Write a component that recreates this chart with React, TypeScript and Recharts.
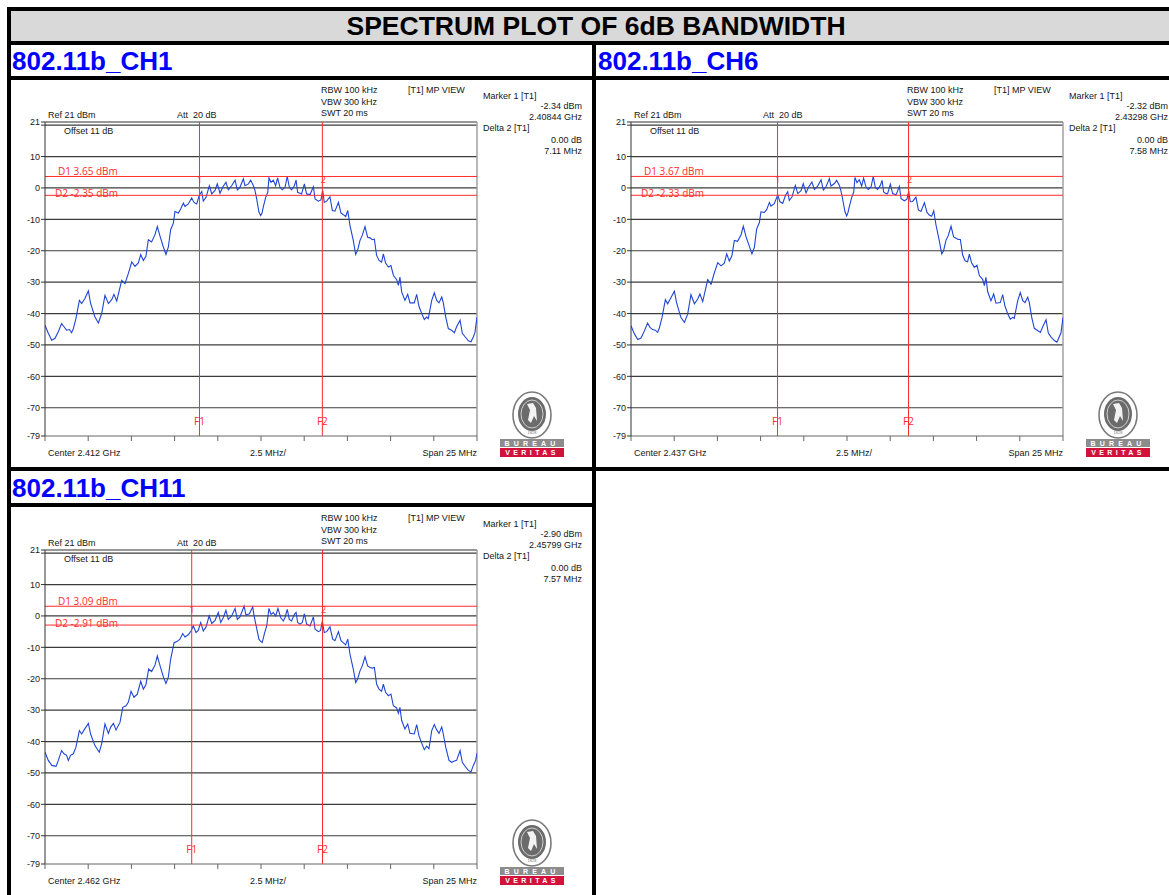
import React from 'react';
import { LineChart, Line, XAxis, YAxis, ReferenceLine, ReferenceDot } from 'recharts';

const TITLE = 'SPECTRUM PLOT OF 6dB BANDWIDTH';
const CHANNEL_NAMES = ['802.11b_CH1', '802.11b_CH6', '802.11b_CH11'];
const CENTER_GHZ = [2.412, 2.437, 2.462];
const MARKER1_LEVEL = ['-2.34', '-2.32', '-2.90'];
const MARKER1_GHZ = [2.40844, 2.43298, 2.45799];
const DELTA2_MHZ = [7.11, 7.58, 7.57];
const D1_LEVEL = [3.65, 3.67, 3.09];
const D2_LEVEL = [-2.35, -2.33, -2.91];

const Y_TICKS = [21, 20, 10, 0, -10, -20, -30, -40, -50, -60, -70, -79];
const GRID_LEVELS = [20, 10, 0, -10, -20, -30, -40, -50, -60, -70];
const X_TICKS = [-12.5, -10, -7.5, -5, -2.5, 0, 2.5, 5, 7.5, 10, 12.5];

// [offset from center in MHz, level in dBm]
const CH1_TRACE: [number, number][] = [
  [-12.5, -43.7], [-12.31, -46.3], [-12.11, -48.5], [-11.92, -47.9], [-11.73, -45.8], [-11.54, -43.2], [-11.4, -44.2],
  [-11.25, -45.3], [-11.09, -45.1], [-10.96, -46.1], [-10.86, -44.8], [-10.71, -41.6], [-10.51, -35.8], [-10.38, -36.8],
  [-10.19, -35.2], [-9.99, -32.8], [-9.86, -36.8], [-9.61, -41.1], [-9.41, -43.0], [-9.22, -40.0], [-9.03, -34.2],
  [-8.83, -36.8], [-8.64, -35.6], [-8.51, -33.9], [-8.35, -36.0], [-8.06, -29.4], [-7.87, -30.5], [-7.68, -27.3],
  [-7.48, -23.6], [-7.29, -25.0], [-7.1, -23.9], [-6.96, -21.2], [-6.81, -23.1], [-6.66, -21.8], [-6.52, -16.5],
  [-6.33, -17.2], [-6.13, -14.8], [-6.0, -12.3], [-5.84, -15.4], [-5.65, -18.8], [-5.5, -21.2], [-5.36, -18.8],
  [-5.23, -13.3], [-5.07, -11.2], [-4.98, -7.5], [-4.78, -8.0], [-4.65, -6.7], [-4.49, -4.8], [-4.4, -5.9],
  [-4.21, -5.1], [-4.01, -3.2], [-3.88, -4.6], [-3.72, -5.1], [-3.57, -2.3], [-3.43, -1.1], [-3.34, -4.2],
  [-3.18, -3.0], [-2.99, 0.7], [-2.85, -1.9], [-2.66, -0.8], [-2.53, 1.3], [-2.37, -1.7], [-2.22, 0.2],
  [-2.03, 1.8], [-1.89, -0.6], [-1.7, 0.7], [-1.5, 2.5], [-1.37, -0.6], [-1.22, 0.2], [-1.02, 2.9],
  [-0.93, 0.7], [-0.73, 1.3], [-0.6, 2.5], [-0.44, 0.7], [-0.35, -0.8], [-0.25, -3.5], [-0.12, -7.7],
  [-0.02, -8.8], [0.06, -8.0], [0.13, -6.1], [0.27, -3.0], [0.39, -1.4], [0.46, 3.2], [0.58, 1.8],
  [0.71, 2.5], [0.85, 0.7], [0.96, 3.2], [1.1, 0.2], [1.23, -0.6], [1.39, 0.2], [1.52, 3.65],
  [1.64, 0.2], [1.77, -0.6], [1.93, 0.7], [2.03, 2.5], [2.12, -1.4], [2.26, -1.7], [2.35, -1.9],
  [2.51, 1.3], [2.64, -1.9], [2.84, -2.1], [3.03, 0.4], [3.13, -3.5], [3.32, -4.2], [3.47, -3.8],
  [3.57, -0.8], [3.66, -4.6], [3.8, -4.2], [3.99, -2.8], [4.13, -7.2], [4.28, -7.4], [4.48, -4.6],
  [4.63, -8.0], [4.76, -8.5], [4.9, -9.1], [5.02, -7.2], [5.15, -12.0], [5.34, -16.7], [5.48, -21.2],
  [5.59, -19.9], [5.73, -16.7], [5.86, -15.1], [6.02, -12.3], [6.17, -15.7], [6.31, -15.9], [6.44, -16.5],
  [6.56, -16.3], [6.69, -21.5], [6.83, -23.1], [6.98, -23.6], [7.08, -21.0], [7.21, -23.9], [7.37, -25.2],
  [7.52, -24.7], [7.66, -27.8], [7.85, -29.2], [7.95, -31.0], [8.04, -28.4], [8.14, -33.1], [8.33, -35.8],
  [8.49, -33.9], [8.62, -36.6], [8.87, -36.6], [9.01, -33.9], [9.14, -37.7], [9.3, -40.0], [9.45, -41.9],
  [9.59, -41.1], [9.68, -41.6], [9.88, -35.8], [10.03, -33.4], [10.17, -35.8], [10.3, -36.6], [10.46, -34.7],
  [10.55, -36.6], [10.69, -41.1], [10.84, -44.8], [11.03, -45.3], [11.19, -46.1], [11.32, -44.2], [11.52, -42.1],
  [11.65, -46.3], [11.81, -47.4], [12.0, -48.7], [12.15, -49.0], [12.29, -47.4], [12.38, -46.1], [12.5, -41.1],
];

const CH6_TRACE: [number, number][] = [
  [-12.5, -43.9], [-12.31, -46.4], [-12.11, -48.3], [-11.92, -47.8], [-11.73, -45.6], [-11.54, -43.0], [-11.4, -44.4],
  [-11.25, -45.1], [-11.09, -45.3], [-10.96, -46.0], [-10.86, -44.6], [-10.71, -41.4], [-10.51, -35.6], [-10.38, -36.9],
  [-10.19, -35.0], [-9.99, -32.9], [-9.86, -36.6], [-9.61, -41.3], [-9.41, -42.8], [-9.22, -40.2], [-9.03, -34.0],
  [-8.83, -36.9], [-8.64, -35.4], [-8.51, -33.8], [-8.35, -36.2], [-8.06, -29.2], [-7.87, -30.7], [-7.68, -27.1],
  [-7.48, -23.8], [-7.29, -24.8], [-7.1, -24.0], [-6.96, -21.0], [-6.81, -23.3], [-6.66, -21.6], [-6.52, -16.7],
  [-6.33, -17.0], [-6.13, -14.9], [-6.0, -12.2], [-5.84, -15.6], [-5.65, -18.6], [-5.5, -21.0], [-5.36, -18.9],
  [-5.23, -13.1], [-5.07, -11.0], [-4.98, -7.6], [-4.78, -7.8], [-4.65, -6.9], [-4.49, -4.6], [-4.4, -5.8],
  [-4.21, -5.0], [-4.01, -2.3], [-3.88, -4.4], [-3.72, -4.9], [-3.57, -2.5], [-3.43, -1.2], [-3.34, -4.0],
  [-3.18, -2.8], [-2.99, 0.8], [-2.85, -1.8], [-2.66, -0.9], [-2.53, 1.4], [-2.37, -1.6], [-2.22, 0.3],
  [-2.03, 1.9], [-1.89, -0.5], [-1.7, 0.6], [-1.5, 2.6], [-1.37, -0.7], [-1.22, 0.3], [-1.02, 3.0],
  [-0.93, 0.6], [-0.73, 1.4], [-0.6, 2.4], [-0.44, 0.8], [-0.35, -0.9], [-0.25, -3.6], [-0.12, -7.5],
  [-0.02, -8.9], [0.06, -7.8], [0.13, -6.0], [0.27, -3.1], [0.39, -1.3], [0.46, 3.3], [0.58, 1.7],
  [0.71, 2.6], [0.85, 0.6], [0.96, 3.1], [1.1, 0.3], [1.23, -0.5], [1.39, 0.3], [1.52, 3.67],
  [1.64, 0.1], [1.77, -0.5], [1.93, 0.8], [2.03, 2.4], [2.12, -1.3], [2.26, -1.8], [2.35, -1.8],
  [2.51, 1.2], [2.64, -1.8], [2.84, -2.2], [3.03, 0.5], [3.13, -3.4], [3.32, -4.1], [3.47, -3.6],
  [3.57, -1.0], [3.66, -4.4], [3.8, -4.3], [3.99, -2.9], [4.13, -7.0], [4.28, -7.5], [4.48, -4.7],
  [4.63, -7.8], [4.76, -8.6], [4.9, -9.0], [5.02, -7.3], [5.15, -11.8], [5.34, -16.8], [5.48, -21.0],
  [5.59, -20.0], [5.73, -16.6], [5.86, -15.2], [6.02, -12.2], [6.17, -15.6], [6.31, -16.0], [6.44, -16.4],
  [6.56, -16.4], [6.69, -21.3], [6.83, -23.2], [6.98, -23.5], [7.08, -21.1], [7.21, -23.8], [7.37, -25.3],
  [7.52, -24.6], [7.66, -27.9], [7.85, -29.1], [7.95, -31.1], [8.04, -28.5], [8.14, -33.0], [8.33, -35.9],
  [8.49, -33.8], [8.62, -36.7], [8.87, -36.5], [9.01, -34.0], [9.14, -37.6], [9.3, -40.1], [9.45, -41.8],
  [9.59, -41.2], [9.68, -41.5], [9.88, -35.9], [10.03, -33.3], [10.17, -35.9], [10.3, -36.5], [10.46, -34.8],
  [10.55, -36.5], [10.69, -41.2], [10.84, -44.7], [11.03, -45.4], [11.19, -46.0], [11.32, -44.3], [11.52, -42.0],
  [11.65, -46.2], [11.81, -47.5], [12.0, -48.6], [12.15, -49.1], [12.29, -47.3], [12.38, -46.2], [12.5, -41.3],
];

const CH11_TRACE: [number, number][] = [
  [-12.5, -43.4], [-12.31, -46.0], [-12.11, -47.6], [-11.86, -47.9], [-11.73, -46.0], [-11.54, -42.9], [-11.4, -43.9],
  [-11.25, -44.4], [-11.15, -46.0], [-11.02, -44.4], [-10.86, -43.9], [-10.71, -41.8], [-10.51, -36.5], [-10.38, -37.6],
  [-10.19, -35.9], [-9.99, -34.2], [-9.86, -37.6], [-9.61, -41.3], [-9.36, -43.4], [-9.22, -40.7], [-9.03, -34.4],
  [-8.83, -37.4], [-8.7, -35.4], [-8.54, -34.2], [-8.39, -36.3], [-8.16, -33.9], [-8.0, -29.1], [-7.81, -28.6],
  [-7.68, -27.5], [-7.52, -24.0], [-7.35, -25.9], [-7.16, -24.9], [-6.96, -20.8], [-6.81, -23.3], [-6.66, -21.9],
  [-6.5, -16.9], [-6.33, -17.7], [-6.13, -15.6], [-6.0, -12.7], [-5.84, -15.9], [-5.65, -19.4], [-5.5, -21.5],
  [-5.36, -19.4], [-5.23, -13.8], [-5.03, -8.5], [-4.84, -8.1], [-4.69, -7.4], [-4.53, -5.6], [-4.4, -6.7],
  [-4.21, -6.0], [-4.05, -4.8], [-3.92, -3.2], [-3.76, -5.3], [-3.63, -4.6], [-3.49, -2.1], [-3.34, -4.8],
  [-3.18, -3.5], [-3.0, 0.0], [-2.85, -2.4], [-2.66, -1.4], [-2.47, 1.1], [-2.33, -2.1], [-2.18, -0.5],
  [-2.03, 1.8], [-1.89, -1.1], [-1.7, 0.0], [-1.5, 2.4], [-1.37, -1.1], [-1.22, -0.3], [-0.98, 3.09],
  [-0.87, 0.3], [-0.67, 0.7], [-0.48, 2.9], [-0.4, 0.0], [-0.29, -2.9], [-0.12, -7.4], [-0.06, -7.9],
  [0.07, -8.5], [0.19, -5.8], [0.33, -3.2], [0.46, 2.4], [0.58, 0.5], [0.71, 1.1], [0.85, 0.0],
  [0.98, 2.4], [1.14, -0.5], [1.29, -1.6], [1.39, -0.5], [1.52, 2.1], [1.64, -1.1], [1.77, -1.6],
  [1.93, 0.5], [2.03, 1.1], [2.12, -2.1], [2.26, -2.6], [2.39, -2.1], [2.51, 0.7], [2.64, -2.6],
  [2.84, -3.2], [3.03, -0.3], [3.13, -4.2], [3.32, -5.0], [3.45, -4.6], [3.55, -1.6], [3.66, -5.3],
  [3.8, -5.0], [3.99, -3.5], [4.15, -7.4], [4.28, -7.9], [4.48, -5.0], [4.63, -7.9], [4.76, -8.5],
  [4.9, -9.2], [5.02, -7.4], [5.15, -12.2], [5.34, -16.9], [5.48, -21.2], [5.59, -20.1], [5.73, -17.5],
  [5.86, -15.9], [6.02, -13.0], [6.17, -15.9], [6.31, -16.4], [6.44, -16.6], [6.56, -16.4], [6.69, -21.7],
  [6.83, -23.3], [6.98, -24.0], [7.08, -21.7], [7.21, -24.3], [7.37, -25.4], [7.52, -24.9], [7.66, -28.6],
  [7.85, -29.3], [7.95, -31.0], [8.04, -29.1], [8.14, -33.3], [8.33, -36.0], [8.49, -34.4], [8.62, -37.4],
  [8.87, -37.6], [9.01, -34.6], [9.14, -38.1], [9.3, -40.5], [9.45, -42.6], [9.59, -41.5], [9.72, -42.3],
  [9.88, -36.5], [10.03, -34.6], [10.17, -36.3], [10.3, -37.4], [10.46, -35.4], [10.55, -37.6], [10.69, -41.8],
  [10.88, -46.0], [11.03, -46.6], [11.19, -46.2], [11.32, -46.0], [11.52, -42.9], [11.65, -46.6], [11.84, -48.1],
  [12.0, -49.2], [12.15, -49.7], [12.29, -47.6], [12.42, -46.0], [12.5, -43.7],
];

const TRACES = [CH1_TRACE, CH6_TRACE, CH11_TRACE];

const FONT_UI = '"Liberation Sans", Arial, Helvetica, sans-serif';
const FONT_MK = '"Open Sans", "Noto Sans", sans-serif';
const RED = '#ff2b2b';
const BLUE = '#1f45d4';

const PANEL_W = 584;
const PANEL_H = 390;
const PANEL_POS = [
  [10, 80],
  [596, 80],
  [10, 508],
];

const Txt = ({ x, y, children, align = 'left', size = 9, color = '#161616', font = FONT_UI }: any) => (
  <div
    style={{
      position: 'absolute',
      left: x,
      top: y - (size + 2) / 2,
      fontSize: size,
      lineHeight: `${size + 2}px`,
      whiteSpace: 'pre',
      color,
      fontFamily: font,
      transform: align === 'right' ? 'translateX(-100%)' : align === 'center' ? 'translateX(-50%)' : undefined,
    }}
  >
    {children}
  </div>
);

// label drawn next to a red display/frequency line
const RedLabel = ({ viewBox, txt, ox = 0, oy = 0, fromBottom = false, anchor = 'start' }: any) => {
  if (!viewBox) return null;
  const x = viewBox.x + ox;
  const y = (fromBottom ? viewBox.y + viewBox.height : viewBox.y) + oy;
  return (
    <text x={x} y={y} fill={RED} fontSize={10} fontFamily={FONT_MK} textAnchor={anchor}>
      {txt}
    </text>
  );
};

const Logo = ({ x, y }: { x: number; y: number }) => (
  <svg style={{ position: 'absolute', left: x, top: y }} width={66} height={68}>
    <ellipse cx={32} cy={25} rx={19} ry={23} fill="#fff" stroke="#7a7a7a" strokeWidth={1.6} />
    <ellipse cx={32} cy={24} rx={14} ry={17} fill="#6b6b6b" />
    <ellipse cx={32} cy={24} rx={11} ry={14} fill="none" stroke="#e8e8e8" strokeWidth={0.8} />
    <path d="M27 14 L30 20 L28 30 L31 33 L34 26 L37 31 L36 18 L33 13 Z" fill="#f2f2f2" />
    <text x={32} y={44} fontSize={4} fill="#777" textAnchor="middle" fontFamily={FONT_UI}>1828</text>
    <rect x={0} y={49} width={64} height={8} fill="#8c8c8c" />
    <text x={32} y={55.8} fontSize={7} fill="#fff" textAnchor="middle" fontFamily={FONT_UI} fontWeight="bold" letterSpacing={4.2}>
      BUREAU
    </text>
    <rect x={0} y={58} width={64} height={9} fill="#d3123c" />
    <text x={32} y={65.4} fontSize={7} fill="#fff" textAnchor="middle" fontFamily={FONT_UI} fontWeight="bold" letterSpacing={3.4}>
      VERITAS
    </text>
  </svg>
);

const Panel = ({ idx }: { idx: number }) => {
  const [left, top] = PANEL_POS[idx];
  const data = TRACES[idx].map(([f, v]) => ({ f, v }));
  const f1 = (MARKER1_GHZ[idx] - CENTER_GHZ[idx]) * 1000;
  const f2 = f1 + DELTA2_MHZ[idx];
  const d1 = D1_LEVEL[idx];
  const d2 = D2_LEVEL[idx];
  return (
    <div style={{ position: 'absolute', left, top, width: PANEL_W, height: PANEL_H }}>
      <div style={{ position: 'absolute', left: 0, top: 0 }}>
        <LineChart width={PANEL_W} height={PANEL_H} data={data} margin={{ top: 42, right: 117, bottom: 24, left: 5 }}>
          <XAxis
            dataKey="f"
            type="number"
            domain={[-12.5, 12.5]}
            ticks={X_TICKS}
            interval={0}
            allowDataOverflow
            height={10}
            tickSize={5}
            tick={() => <g />}
            stroke="#666"
          />
          <YAxis
            type="number"
            domain={[-79, 21]}
            ticks={Y_TICKS}
            interval={0}
            allowDataOverflow
            width={30}
            tickSize={4}
            tickMargin={1}
            stroke="#333"
            tickFormatter={(v: number) => (v === 20 ? '' : String(v))}
            tick={{ fontSize: 9, fill: '#222', fontFamily: FONT_UI }}
          />
          {GRID_LEVELS.map((g) => (
            <ReferenceLine key={g} y={g} stroke="#3c3c3c" strokeWidth={1.2} />
          ))}
          <ReferenceLine y={21} stroke="#333" strokeWidth={1.2} />
          <ReferenceLine x={12.5} stroke="#a0a0a0" strokeWidth={1.5} />
          <Line dataKey="v" type="linear" stroke={BLUE} strokeWidth={1.1} dot={false} isAnimationActive={false} />
          <ReferenceLine
            y={d1}
            stroke={RED}
            label={<RedLabel txt={`D1 ${d1.toFixed(2)} dBm`} ox={13} oy={-1} />}
          />
          <ReferenceLine
            y={d2}
            stroke={RED}
            label={<RedLabel txt={`D2 ${d2.toFixed(2)} dBm`} ox={10} oy={2} />}
          />
          <ReferenceLine
            x={f1}
            stroke={RED}
            label={<RedLabel txt="F1" fromBottom oy={-11} anchor="middle" />}
          />
          <ReferenceLine
            x={f2}
            stroke={RED}
            label={<RedLabel txt="F2" fromBottom oy={-11} anchor="middle" />}
          />
          <ReferenceDot
            x={f1}
            y={d1}
            r={0}
            shape={(p: any) => (
              <text x={p.cx} y={p.cy + 7} fill={RED} fontSize={9} fontFamily={FONT_MK} textAnchor="middle">1</text>
            )}
          />
          <ReferenceDot
            x={f2}
            y={d1}
            r={0}
            shape={(p: any) => (
              <text x={p.cx + 1} y={p.cy + 7} fill={RED} fontSize={9} fontFamily={FONT_MK} textAnchor="middle">2</text>
            )}
          />
        </LineChart>
      </div>
      <Txt x={311} y={10}>RBW 100 kHz</Txt>
      <Txt x={311} y={22}>VBW 300 kHz</Txt>
      <Txt x={311} y={33}>SWT 20 ms</Txt>
      <Txt x={398} y={10}>[T1] MP VIEW</Txt>
      <Txt x={38} y={35}>Ref 21 dBm</Txt>
      <Txt x={167} y={35}>Att  20 dB</Txt>
      <Txt x={54} y={51}>Offset 11 dB</Txt>
      <Txt x={473} y={16}>Marker 1 [T1]</Txt>
      <Txt x={572} y={26} align="right">{MARKER1_LEVEL[idx]} dBm</Txt>
      <Txt x={572} y={37} align="right">{MARKER1_GHZ[idx].toFixed(5)} GHz</Txt>
      <Txt x={473} y={48}>Delta 2 [T1]</Txt>
      <Txt x={572} y={60} align="right">0.00 dB</Txt>
      <Txt x={572} y={71} align="right">{DELTA2_MHZ[idx].toFixed(2)} MHz</Txt>
      <Txt x={38} y={373}>Center {CENTER_GHZ[idx].toFixed(3)} GHz</Txt>
      <Txt x={240} y={373}>2.5 MHz/</Txt>
      <Txt x={467} y={373} align="right">Span 25 MHz</Txt>
      <Logo x={490} y={310} />
    </div>
  );
};

const Bar = ({ x, y, w, h }: any) => (
  <div style={{ position: 'absolute', left: x, top: y, width: w, height: h, background: '#000' }} />
);

const headerStyle: React.CSSProperties = {
  position: 'absolute',
  fontFamily: FONT_UI,
  fontWeight: 'bold',
  fontSize: 26,
  lineHeight: '32px',
  color: '#0000ff',
  whiteSpace: 'nowrap',
};

export default function App() {
  return (
    <div style={{ position: 'absolute', left: 0, top: 0, width: 1169, height: 895, overflow: 'hidden', background: '#fff' }}>
      <div style={{ position: 'absolute', left: 11, top: 11, width: 1170, height: 31, background: '#d9d9d9' }} />
      <div
        style={{
          position: 'absolute',
          left: 11,
          top: 10,
          width: 1170,
          textAlign: 'center',
          fontFamily: FONT_UI,
          fontWeight: 'bold',
          fontSize: 26.5,
          lineHeight: '32px',
          color: '#000',
          whiteSpace: 'nowrap',
        }}
      >
        {TITLE}
      </div>
      <div style={{ ...headerStyle, left: 12, top: 45 }}>{CHANNEL_NAMES[0]}</div>
      <div style={{ ...headerStyle, left: 598, top: 45 }}>{CHANNEL_NAMES[1]}</div>
      <div style={{ ...headerStyle, left: 12, top: 472 }}>{CHANNEL_NAMES[2]}</div>

      <Panel idx={0} />
      <Panel idx={1} />
      <Panel idx={2} />

      <Bar x={8} y={7} w={1200} h={4} />
      <Bar x={7} y={7} w={4} h={900} />
      <Bar x={8} y={41} w={1200} h={4} />
      <Bar x={8} y={76} w={1200} h={4} />
      <Bar x={592} y={41} w={4} h={900} />
      <Bar x={8} y={467} w={1200} h={4} />
      <Bar x={8} y={503} w={588} h={4} />
    </div>
  );
}
